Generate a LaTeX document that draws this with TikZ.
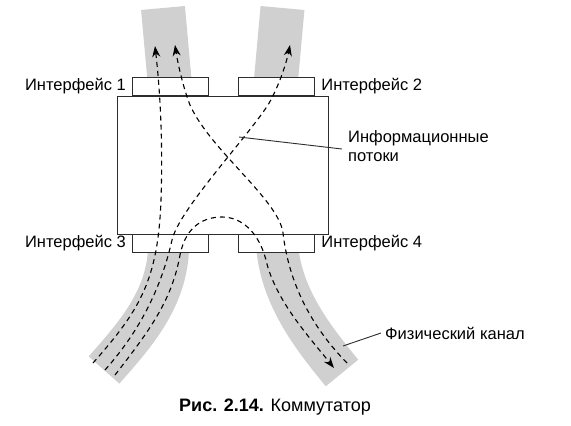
\documentclass[tikz,border=0pt]{standalone}
\usepackage{fontspec}
\setmainfont{Liberation Sans}
\usetikzlibrary{arrows.meta}
\definecolor{kanalgray}{RGB}{208,208,208}
\definecolor{ramka}{RGB}{45,45,45}

\tikzset{
  kanal/.style={draw=kanalgray,line width=44pt},
  port/.style={draw=ramka,line width=1.2pt,fill=white,
               minimum width=76pt,minimum height=18pt,inner sep=0pt},
  potok/.style={line width=1.1pt,dash pattern=on 5pt off 4pt},
  strelka/.style={-{Stealth[length=11pt,width=8pt]}},
  metka/.style={font=\fontsize{16.5}{19}\selectfont,inner sep=0pt},
  vynoska/.style={draw=ramka,line width=0.9pt},
}

\begin{document}
\begin{tikzpicture}[x=1pt,y=-1pt]
  \useasboundingbox (0,0) rectangle (571,426);

  % physical channels
  \draw[kanal] (169.5,80) -- (163,8);
  \draw[kanal] (276,80) -- (282.5,8);
  \draw[kanal,line width=41pt] (168.5,250) .. controls (166,300) and (135,335) .. (104,370);
  \draw[kanal,line width=42pt] (277.5,250) .. controls (283,300) and (315,340) .. (342,373);

  % switch and its interfaces
  \node[draw=ramka,line width=1.2pt,fill=white,minimum width=211pt,
        minimum height=138pt,anchor=north west] (komm) at (117,96) {};
  \node[port,anchor=south west] (if1) at (132,96) {};
  \node[port,anchor=south west] (if2) at (238,96) {};
  \node[port,anchor=north west] (if3) at (132,234) {};
  \node[port,anchor=north west] (if4) at (238,234) {};

  \node[metka,anchor=east] (tif1) at ([xshift=-6pt]if1.west) {Интерфейс 1};
  \node[metka,anchor=west] (tif2) at ([xshift=6pt]if2.east) {Интерфейс 2};
  \node[metka,anchor=east] (tif3) at ([xshift=-6pt,yshift=1pt]if3.west) {Интерфейс 3};
  \node[metka,anchor=west] (tif4) at ([xshift=6pt,yshift=1pt]if4.east) {Интерфейс 4};

  % information flows
  \draw[potok,strelka] (93,363) .. controls (140,310) and (158,280) .. (161,200)
    .. controls (163,140) and (160,90) .. (155,46);
  \draw[potok,strelka] (347,363) .. controls (305,320) and (288,275) .. (283,233)
    .. controls (279,200) and (210,150) .. (190,105)
    .. controls (184,90) and (178,65) .. (175,45);
  \draw[potok,strelka] (105,370) .. controls (145,325) and (163,280) .. (172,240)
    .. controls (179,210) and (245,140) .. (268,105)
    .. controls (278,88) and (286,65) .. (290,45);
  \draw[potok,strelka] (115,375) .. controls (150,330) and (172,300) .. (180,255)
    .. controls (186,225) and (205,217) .. (222,217)
    .. controls (240,217) and (258,230) .. (266,260)
    .. controls (275,300) and (310,338) .. (334,368);

  % labels
  \node[metka,anchor=west,align=left] (inf) at (348,146) {Информационные\\потоки};
  \coordinate (peresech) at (239,137);
  \draw[vynoska] (peresech) -- ([xshift=-6pt,yshift=-3pt]inf.west);

  \node[metka,anchor=west] (fiz) at (385,333) {Физический канал};
  \coordinate (vkanale) at (343,346);
  \draw[vynoska] (vkanale) -- ([xshift=-4pt]fiz.west);

  \node[font=\fontsize{18}{21}\selectfont,inner sep=0pt] (podpis) at (275,407)
    {\textbf{Рис. 2.14.} Коммутатор};
\end{tikzpicture}
\end{document}
